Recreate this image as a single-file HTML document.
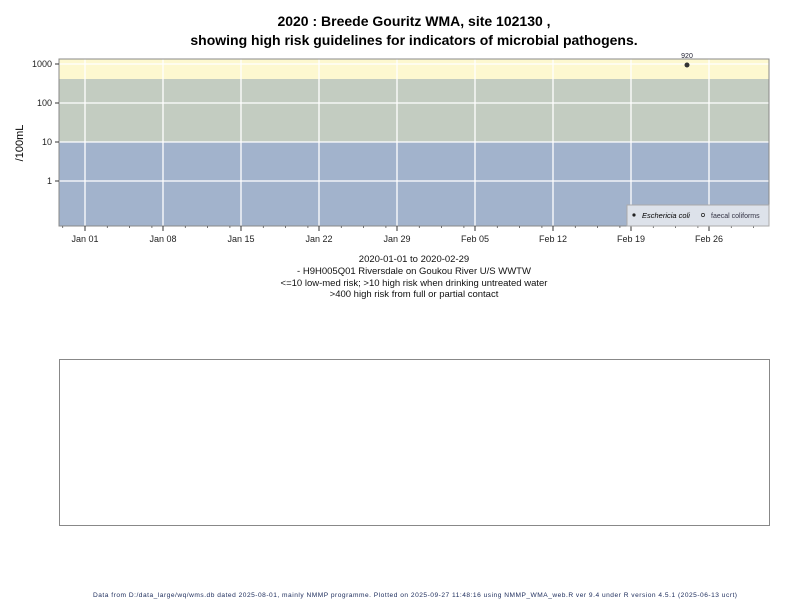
<!DOCTYPE html>
<html><head><meta charset="utf-8"><style>body{margin:0;background:#fff}svg{display:block}</style></head><body>
<svg width="800" height="600" xmlns="http://www.w3.org/2000/svg" font-family="Liberation Sans, sans-serif">
<rect width="800" height="600" fill="#fff"/>
<text x="414" y="26" font-size="14" font-weight="bold" text-anchor="middle">2020 : Breede Gouritz WMA, site 102130 ,</text>
<text x="414" y="45" font-size="14" font-weight="bold" text-anchor="middle">showing high risk guidelines for indicators of microbial pathogens.</text>
<rect x="59" y="59" width="710" height="20" fill="#fdf8d0"/>
<rect x="59" y="79" width="710" height="63" fill="#c3ccc1"/>
<rect x="59" y="142" width="710" height="84" fill="#a2b3cc"/>
<g stroke="#fff" stroke-width="1.3">
<line x1="59" x2="769" y1="64" y2="64"/><line x1="59" x2="769" y1="103" y2="103"/><line x1="59" x2="769" y1="142" y2="142"/><line x1="59" x2="769" y1="181" y2="181"/>
<line x1="85" x2="85" y1="59" y2="226"/><line x1="163" x2="163" y1="59" y2="226"/><line x1="241" x2="241" y1="59" y2="226"/><line x1="319" x2="319" y1="59" y2="226"/><line x1="397" x2="397" y1="59" y2="226"/><line x1="475" x2="475" y1="59" y2="226"/><line x1="553" x2="553" y1="59" y2="226"/><line x1="631" x2="631" y1="59" y2="226"/><line x1="709" x2="709" y1="59" y2="226"/>
</g>
<rect x="59" y="59" width="710" height="167" fill="none" stroke="#888"/>
<g stroke="#333"><line x1="55" x2="59" y1="64" y2="64"/><line x1="55" x2="59" y1="103" y2="103"/><line x1="55" x2="59" y1="142" y2="142"/><line x1="55" x2="59" y1="181" y2="181"/>
<line x1="85" x2="85" y1="226" y2="231"/><line x1="163" x2="163" y1="226" y2="231"/><line x1="241" x2="241" y1="226" y2="231"/><line x1="319" x2="319" y1="226" y2="231"/><line x1="397" x2="397" y1="226" y2="231"/><line x1="475" x2="475" y1="226" y2="231"/><line x1="553" x2="553" y1="226" y2="231"/><line x1="631" x2="631" y1="226" y2="231"/><line x1="709" x2="709" y1="226" y2="231"/></g>
<g stroke="#555" stroke-width="0.8">
<path d="M107.3 226v2M129.6 226v2M151.9 226v2M185.3 226v2M207.6 226v2M229.9 226v2M263.3 226v2M285.6 226v2M307.9 226v2M341.3 226v2M363.6 226v2M385.9 226v2M419.3 226v2M441.6 226v2M463.9 226v2M497.3 226v2M519.6 226v2M541.9 226v2M575.3 226v2M597.6 226v2M619.9 226v2M653.3 226v2M675.6 226v2M697.9 226v2M731.3 226v2M753.6 226v2M62.7 226v2"/>
</g>
<g font-size="9" text-anchor="end" fill="#222"><text x="52" y="67">1000</text><text x="52" y="106">100</text><text x="52" y="145">10</text><text x="52" y="184">1</text></g>
<text transform="translate(23,143) rotate(-90)" font-size="11" text-anchor="middle">/100mL</text>
<g font-size="9" text-anchor="middle" fill="#222"><text x="85" y="242">Jan 01</text><text x="163" y="242">Jan 08</text><text x="241" y="242">Jan 15</text><text x="319" y="242">Jan 22</text><text x="397" y="242">Jan 29</text><text x="475" y="242">Feb 05</text><text x="553" y="242">Feb 12</text><text x="631" y="242">Feb 19</text><text x="709" y="242">Feb 26</text></g>
<circle cx="687" cy="65" r="2.5" fill="#333"/>
<text x="687" y="58" font-size="7" text-anchor="middle" fill="#223">920</text>
<rect x="627" y="205" width="142" height="21" fill="#dde2ea" stroke="#aaa"/>
<circle cx="634" cy="215" r="1.6" fill="#222"/><text x="642" y="218" font-size="7.5" font-style="italic">Eschericia coli</text>
<circle cx="703" cy="215" r="1.6" fill="none" stroke="#222" stroke-width="0.7"/><text x="711" y="218" font-size="7" fill="#334">faecal coliforms</text>
<g font-size="9.5" text-anchor="middle" fill="#111"><text x="414" y="262">2020-01-01 to 2020-02-29</text><text x="414" y="274">- H9H005Q01 Riversdale on Goukou River U/S WWTW</text><text x="414" y="286">&lt;=10 low-med risk; &gt;10 high risk when drinking untreated water</text><text x="414" y="297">&gt;400 high risk from full or partial contact</text></g>
<rect x="59.5" y="359.5" width="710" height="166" fill="#fff" stroke="#888"/>
<text x="415" y="597" font-size="6.6" text-anchor="middle" fill="#1a2a5a" textLength="644">Data from D:/data_large/wq/wms.db dated 2025-08-01, mainly NMMP programme. Plotted on 2025-09-27 11:48:16 using NMMP_WMA_web.R ver 9.4 under R version 4.5.1 (2025-06-13 ucrt)</text>
</svg>
</body></html>
